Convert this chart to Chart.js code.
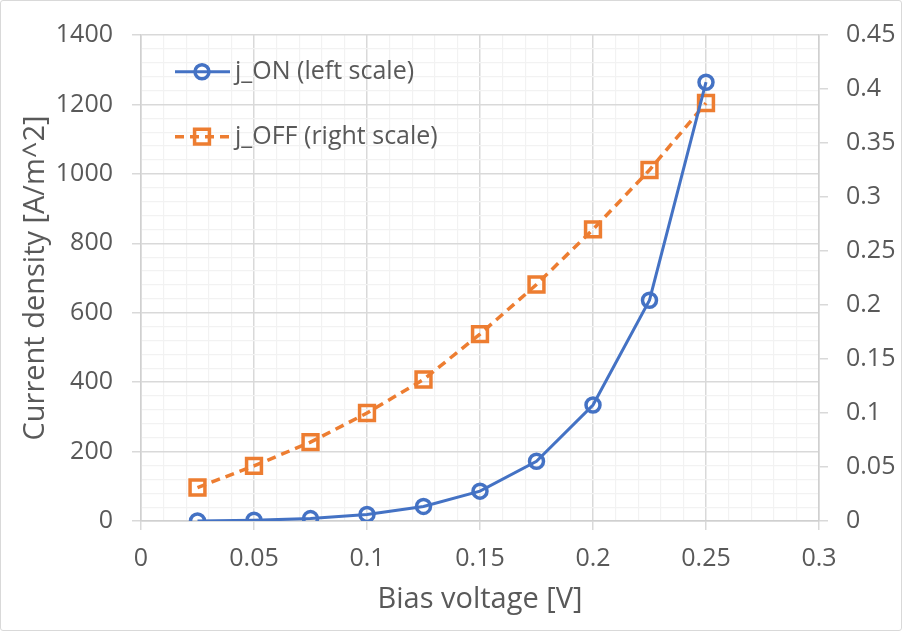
<!DOCTYPE html>
<html>
<head>
<meta charset="utf-8">
<script src="https://cdn.jsdelivr.net/npm/chart.js@4.4.1/dist/chart.umd.min.js"></script>
<style>
  html, body { margin: 0; padding: 0; background: #fff; }
  #wrap { width: 900px; height: 629px; border: 1px solid #d9d9d9; border-radius: 3px; }
  canvas { display: block; }
</style>
</head>
<body>
<div id="wrap"><canvas id="chart" width="900" height="629"></canvas></div>
<script>
// values
const biasVoltage = [0.025, 0.05, 0.075, 0.1, 0.125, 0.15, 0.175, 0.2, 0.225, 0.25];
const jOn = [0, 2, 7, 19, 42, 86, 172, 334, 636, 1264];
const jOff = [0.031, 0.051, 0.073, 0.1, 0.131, 0.173, 0.219, 0.27, 0.325, 0.387];

const xMajor = 0.05, xMinor = 0.01;
const yLeftMajor = 200, yLeftMinor = 40;

const blue = '#4472C4';
const orange = '#ED7D31';
const textGray = '#595959';
const majorGrid = '#d9d9d9';
const minorGrid = '#f2f2f2';
const FONT = "'Open Sans', 'Noto Sans', sans-serif";
const TICK_SIZE = 25;
const TITLE_SIZE = 29;

const isMajor = (v, step) => Math.abs(v / step - Math.round(v / step)) < 1e-6;
const fmt = v => String(Math.round(v * 1000) / 1000);

// legend drawn inside the plot area (line + marker, like the original)
const insideLegend = {
  id: 'insideLegend',
  afterDraw(chart) {
    const ctx = chart.ctx;
    const rows = [70.7, 135.7];
    chart.data.datasets.forEach((ds, i) => {
      const y = rows[i];
      ctx.save();
      ctx.strokeStyle = ds.borderColor;
      ctx.fillStyle = 'rgba(0,0,0,0)';
      ctx.lineWidth = ds.borderWidth;
      ctx.setLineDash(ds.borderDash || []);
      ctx.beginPath();
      ctx.moveTo(174, y);
      ctx.lineTo(229, y);
      ctx.stroke();
      ctx.setLineDash([]);
      ctx.lineWidth = ds.pointBorderWidth;
      Chart.helpers.drawPoint(ctx, { pointStyle: ds.pointStyle, radius: ds.pointRadius, borderWidth: ds.pointBorderWidth, rotation: 0 }, 201, y);
      ctx.fillStyle = textGray;
      ctx.font = TICK_SIZE + 'px ' + FONT;
      ctx.textBaseline = 'middle';
      ctx.fillText(ds.label, 234, y);
      ctx.restore();
    });
  }
};

new Chart(document.getElementById('chart'), {
  type: 'line',
  data: {
    datasets: [
      {
        label: 'j_ON (left scale)',
        data: biasVoltage.map((v, i) => ({ x: v, y: jOn[i] })),
        yAxisID: 'yLeft',
        borderColor: blue,
        backgroundColor: 'transparent',
        borderWidth: 3,
        pointStyle: 'circle',
        pointRadius: 7,
        pointBorderWidth: 3.5,
        pointBackgroundColor: 'transparent',
        pointBorderColor: blue,
        tension: 0
      },
      {
        label: 'j_OFF (right scale)',
        data: biasVoltage.map((v, i) => ({ x: v, y: jOff[i] })),
        yAxisID: 'yRight',
        borderColor: orange,
        backgroundColor: 'transparent',
        borderWidth: 3.5,
        borderDash: [9, 6],
        pointStyle: 'rect',
        pointRadius: 10.5,
        pointBorderWidth: 3.5,
        pointBackgroundColor: 'transparent',
        pointBorderColor: orange,
        tension: 0
      }
    ]
  },
  options: {
    responsive: false,
    animation: false,
    layout: { padding: { top: 32, left: 0, right: 0, bottom: 0 } },
    plugins: {
      legend: { display: false },
      tooltip: { enabled: false }
    },
    scales: {
      x: {
        type: 'linear',
        position: 'bottom',
        min: 0,
        max: 0.3,
        afterFit: s => { s.height = 109; },
        ticks: {
          stepSize: xMinor,
          autoSkip: false,
          minRotation: 0,
          maxRotation: 0,
          padding: 14,
          color: textGray,
          font: { family: FONT, size: TICK_SIZE },
          callback: v => isMajor(v, xMajor) ? fmt(v) : ''
        },
        grid: {
          color: c => isMajor(c.tick.value, xMajor) ? majorGrid : minorGrid,
          lineWidth: c => isMajor(c.tick.value, xMajor) ? 1.5 : 1.2,
          tickColor: c => isMajor(c.tick.value, xMajor) ? majorGrid : 'transparent',
          tickLength: 9
        },
        border: { color: '#d0d0d0', width: 1.5 },
        title: {
          display: true,
          text: 'Bias voltage [V]',
          color: textGray,
          font: { family: FONT, size: TITLE_SIZE },
          padding: { top: 0, bottom: 13 }
        }
      },
      yLeft: {
        type: 'linear',
        position: 'left',
        min: 0,
        max: 1400,
        afterFit: s => { s.width = 140; },
        ticks: {
          stepSize: yLeftMinor,
          autoSkip: false,
          padding: 19,
          color: textGray,
          font: { family: FONT, size: TICK_SIZE },
          callback: v => isMajor(v, yLeftMajor) ? fmt(v) : ''
        },
        grid: {
          color: c => isMajor(c.tick.value, yLeftMajor) ? majorGrid : minorGrid,
          lineWidth: c => isMajor(c.tick.value, yLeftMajor) ? 1.5 : 1.2,
          tickColor: c => isMajor(c.tick.value, yLeftMajor) ? majorGrid : 'transparent',
          tickLength: 9
        },
        border: { color: '#d0d0d0', width: 1.5 },
        title: {
          display: true,
          text: 'Current density [A/m^2]',
          color: textGray,
          font: { family: FONT, size: TITLE_SIZE },
          padding: { top: 17, bottom: 0 }
        }
      },
      yRight: {
        type: 'linear',
        position: 'right',
        min: 0,
        max: 0.45,
        afterFit: s => { s.width = 82; },
        ticks: {
          stepSize: 0.05,
          autoSkip: false,
          padding: 18,
          color: textGray,
          font: { family: FONT, size: TICK_SIZE },
          callback: v => fmt(v)
        },
        grid: {
          drawOnChartArea: false,
          tickColor: majorGrid,
          tickLength: 9,
          lineWidth: 1.5
        },
        border: { color: '#d0d0d0', width: 1.5 }
      }
    }
  },
  plugins: [insideLegend]
});
</script>
</body>
</html>
